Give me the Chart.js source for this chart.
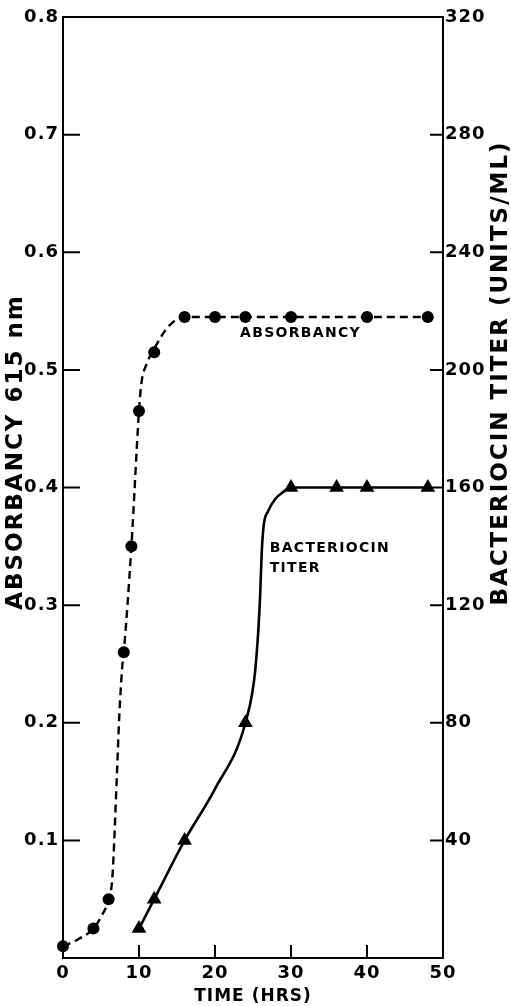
<!DOCTYPE html>
<html><head><meta charset="utf-8">
<script src="https://cdn.jsdelivr.net/npm/chart.js@4"></script>
<style>html,body{margin:0;padding:0;background:#fff}canvas{display:block}</style>
</head><body>
<canvas id="c" width="511" height="1006"></canvas>
<script>
// ---- data ----
const absTime = [0, 4, 6, 8, 9, 10, 12, 16, 20, 24, 30, 40, 48];
const absValues = [0.01, 0.025, 0.05, 0.26, 0.35, 0.465, 0.515, 0.545, 0.545, 0.545, 0.545, 0.545, 0.545];
const titerTime = [10, 12, 16, 24, 30, 36, 40, 48];
const titerValues = [10, 20, 40, 80, 160, 160, 160, 160];
// hand-drawn fitted curves
const absCurveTime = [0, 2, 4, 5, 6, 6.5, 7.1, 7.4, 7.8, 8, 9, 10, 10.3, 11, 12, 13.9, 16, 20, 24, 30, 40, 48];
const absCurveValues = [0.01, 0.016, 0.025, 0.035, 0.05, 0.069, 0.157, 0.205, 0.248, 0.26, 0.35, 0.465, 0.488, 0.505, 0.518, 0.537, 0.545, 0.545, 0.545, 0.545, 0.545, 0.545];
const titerCurveTime = [10, 12, 16, 20, 24, 25.3, 25.9, 26.15, 26.4, 27, 27.9, 29, 30, 36, 40, 48];
const titerCurveValues = [10, 20, 40, 57.5, 80, 98, 121, 138, 147, 152, 156, 158.5, 160, 160, 160, 160];
// tick labels
const xTicks = [0, 10, 20, 30, 40, 50];
const yLeftTicks = [0.1, 0.2, 0.3, 0.4, 0.5, 0.6, 0.7, 0.8];
const yRightTicks = [40, 80, 120, 160, 200, 240, 280, 320];
const xTitle = 'TIME (HRS)';
const yLeftTitle = 'ABSORBANCY 615 nm';
const yRightTitle = 'BACTERIOCIN TITER (UNITS/ML)';
const absLabel = 'ABSORBANCY';
const titerLabel = ['BACTERIOCIN', 'TITER'];

const FAMILY = "'DejaVu Sans', sans-serif";
const pts = (xs, ys) => xs.map((x, i) => ({x: x, y: ys[i]}));

const decor = {
  id: 'decor',
  beforeDraw(chart) {
    chart.ctx.letterSpacing = '1px';
  },
  beforeDatasetsDraw(chart) {
    const {ctx, chartArea: a, scales} = chart;
    ctx.save();
    ctx.strokeStyle = '#000';
    ctx.lineWidth = 2;
    ctx.strokeRect(a.left, a.top, a.right - a.left, a.bottom - a.top);
    ctx.beginPath();
    yLeftTicks.slice(0, -1).forEach(v => {
      const y = scales.y.getPixelForValue(v);
      ctx.moveTo(a.left, y); ctx.lineTo(a.left + 17, y);
    });
    yRightTicks.slice(0, -1).forEach(v => {
      const y = scales.y2.getPixelForValue(v);
      ctx.moveTo(a.right - 13, y); ctx.lineTo(a.right, y);
    });
    xTicks.slice(1, -1).forEach(v => {
      const x = scales.x.getPixelForValue(v);
      ctx.moveTo(x, a.bottom); ctx.lineTo(x, a.bottom - 13);
    });
    ctx.stroke();
    ctx.restore();
  },
  afterDraw(chart) {
    const {ctx, chartArea: a, scales} = chart;
    ctx.save();
    ctx.fillStyle = '#000';
    ctx.textBaseline = 'middle';
    // axis titles
    ctx.font = 'bold 17px ' + FAMILY;
    ctx.letterSpacing = '1px';
    ctx.textAlign = 'center';
    ctx.fillText(xTitle, (a.left + a.right) / 2, 997);
    ctx.font = 'bold 23px ' + FAMILY;
    ctx.letterSpacing = '2px';
    ctx.save();
    ctx.translate(16, 452);
    ctx.rotate(-Math.PI / 2);
    ctx.fillText(yLeftTitle, 0, 0);
    ctx.restore();
    ctx.save();
    ctx.translate(501, 373);
    ctx.rotate(-Math.PI / 2);
    ctx.fillText(yRightTitle, 0, 0);
    ctx.restore();
    // in-plot labels
    ctx.font = 'bold 14px ' + FAMILY;
    ctx.letterSpacing = '1.3px';
    ctx.textAlign = 'left';
    ctx.fillText(absLabel, scales.x.getPixelForValue(23.3), scales.y.getPixelForValue(0.531));
    ctx.fillText(titerLabel[0], scales.x.getPixelForValue(27.2), scales.y.getPixelForValue(0.348));
    ctx.fillText(titerLabel[1], scales.x.getPixelForValue(27.2), scales.y.getPixelForValue(0.331));
    ctx.restore();
  }
};

const tickFont = {family: FAMILY, size: 18, weight: 'bold'};
const noGrid = {display: false, drawTicks: false};
new Chart(document.getElementById('c'), {
  type: 'line',
  data: {
    datasets: [
      {data: pts(absCurveTime, absCurveValues), yAxisID: 'y', borderColor: '#000', borderWidth: 2.4,
       borderDash: [8, 5], pointRadius: 0, cubicInterpolationMode: 'monotone', fill: false},
      {data: pts(absTime, absValues), yAxisID: 'y', showLine: false, pointStyle: 'circle', pointRadius: 6,
       backgroundColor: '#000', borderColor: '#000', borderWidth: 0, clip: false},
      {data: pts(titerCurveTime, titerCurveValues), yAxisID: 'y2', borderColor: '#000', borderWidth: 2.6,
       pointRadius: 0, cubicInterpolationMode: 'monotone', fill: false},
      {data: pts(titerTime, titerValues), yAxisID: 'y2', showLine: false, pointStyle: 'triangle', pointRadius: 8.5,
       backgroundColor: '#000', borderColor: '#000', borderWidth: 0, clip: false}
    ]
  },
  options: {
    responsive: false,
    animation: false,
    events: [],
    layout: {padding: {top: 17, left: 0, right: 0, bottom: 0}},
    plugins: {legend: {display: false}, tooltip: {enabled: false}},
    scales: {
      x: {type: 'linear', min: 0, max: 50,
          afterBuildTicks: s => { s.ticks = xTicks.map(v => ({value: v})); },
          afterFit: s => { s.height = 48; },
          grid: noGrid, border: {display: false},
          ticks: {font: tickFont, color: '#000', padding: 5, maxRotation: 0, autoSkip: false}},
      y: {type: 'linear', position: 'left', min: 0, max: 0.8,
          afterBuildTicks: s => { s.ticks = yLeftTicks.map(v => ({value: v})); },
          afterFit: s => { s.width = 63; },
          grid: noGrid, border: {display: false},
          ticks: {font: tickFont, color: '#000', padding: 4, autoSkip: false, callback: v => v.toFixed(1)}},
      y2: {type: 'linear', position: 'right', min: 0, max: 320,
          afterBuildTicks: s => { s.ticks = yRightTicks.map(v => ({value: v})); },
          afterFit: s => { s.width = 68; },
          grid: noGrid, border: {display: false},
          ticks: {font: tickFont, color: '#000', padding: 2, autoSkip: false}}
    }
  },
  plugins: [decor]
});
</script>
</body></html>
